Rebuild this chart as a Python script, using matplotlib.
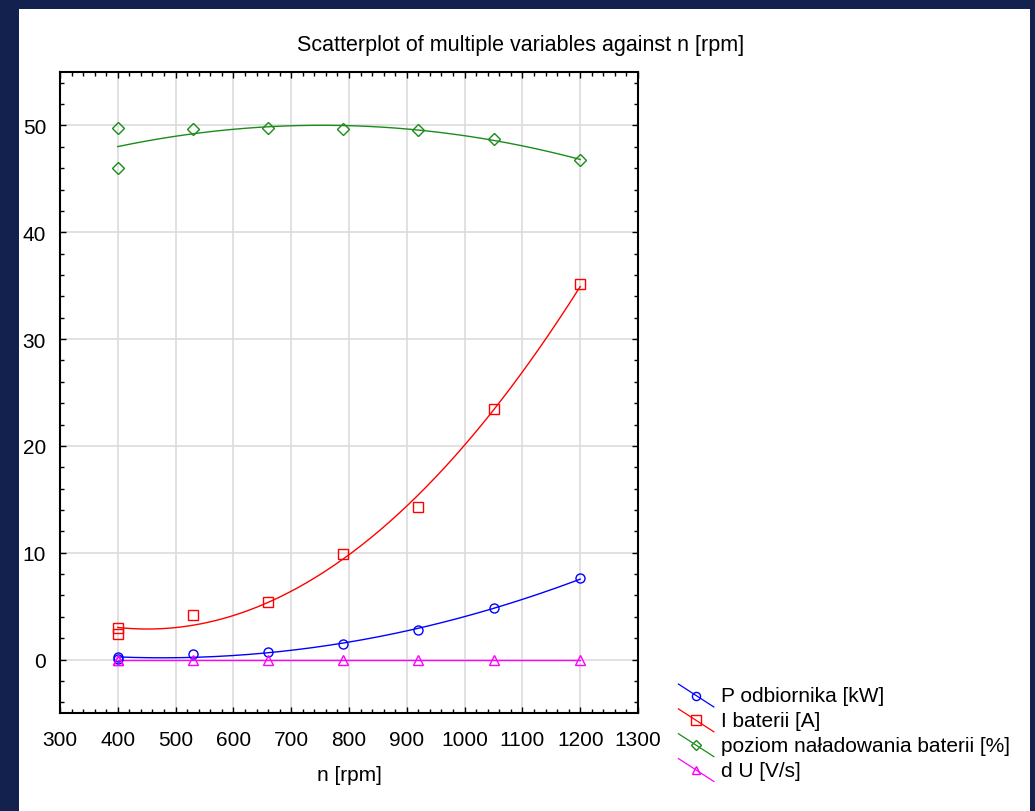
import numpy as np
import matplotlib
matplotlib.use("Agg")
import matplotlib.pyplot as plt
from matplotlib.lines import Line2D
from matplotlib.legend_handler import HandlerLine2D
from matplotlib.patches import Rectangle
from matplotlib.ticker import MultipleLocator

plt.rcParams['font.family'] = ['Liberation Sans', 'DejaVu Sans']

# data
n_rpm = [400, 400, 530, 660, 790, 920, 1050, 1200]
p_odb = [0.1, 0.2, 0.5, 0.7, 1.5, 2.75, 4.8, 7.6]
i_bat = [3.0, 2.35, 4.2, 5.35, 9.85, 14.3, 23.45, 35.2]
poziom = [49.8, 46.0, 49.7, 49.8, 49.7, 49.6, 48.7, 46.8]
d_u = [0.0, 0.0, 0.0, 0.0, 0.0, 0.0, 0.0, 0.0]

labels = ['P odbiornika [kW]', 'I baterii [A]',
          'poziom naładowania baterii [%]', 'd U [V/s]']
colors = ['#0000ff', '#ff0000', '#1a8c1a', '#ff00ff']
markers = ['o', 's', 'D', '^']
msizes = [6.5, 7.5, 6, 6.5]


class DiagHandler(HandlerLine2D):
    # legend sample drawn as a diagonal line with the marker in the middle
    def create_artists(self, legend, orig_handle, xdescent, ydescent,
                       width, height, fontsize, trans):
        x0, x1 = -xdescent, width - xdescent
        y0, y1 = height - ydescent + 2, -ydescent - 4
        ln = Line2D([x0, x1], [y0, y1], color=orig_handle.get_color(), lw=0.9)
        mk = Line2D([(x0 + x1) / 2], [(y0 + y1) / 2],
                    marker=orig_handle.get_marker(), ms=orig_handle.get_markersize() * 0.9,
                    mfc='none', mec=orig_handle.get_color(), mew=1, ls='none')
        ln.set_transform(trans)
        mk.set_transform(trans)
        return [ln, mk]


W, H = 1035, 812
fig = plt.figure(figsize=(W / 100, H / 100), dpi=100, facecolor='#12214d')
fig.patches.append(Rectangle((19 / W, 0), (1030 - 19) / W, 1 - 10 / H,
                             transform=fig.transFigure, facecolor='white',
                             edgecolor='none', zorder=-1))

ax = fig.add_axes([60 / W, 1 - 714 / H, (638 - 60) / W, (714 - 73) / H])

x = np.array(n_rpm, dtype=float)
xs = np.linspace(x.min(), x.max(), 200)
handles = []
for ys, lab, c, m, ms in zip([p_odb, i_bat, poziom, d_u], labels, colors, markers, msizes):
    ys = np.array(ys)
    coef = np.polyfit(x, ys, 2)
    ax.plot(xs, np.polyval(coef, xs), color=c, lw=1, zorder=3)
    ax.plot(x, ys, ls='none', marker=m, ms=ms, mfc='none', mec=c, mew=1, zorder=4)
    handles.append(Line2D([], [], color=c, marker=m, ms=ms))

ax.set_xlim(300, 1300)
ax.set_ylim(-5, 55)
ax.xaxis.set_major_locator(MultipleLocator(100))
ax.xaxis.set_minor_locator(MultipleLocator(20))
ax.yaxis.set_major_locator(MultipleLocator(10))
ax.yaxis.set_minor_locator(MultipleLocator(2))
ax.grid(True, which='major', color='#dcdcdc', lw=1.2, zorder=0)
ax.set_axisbelow(True)
ax.tick_params(which='both', direction='in', top=True, right=True, labelsize=15)
ax.tick_params(which='major', length=4, width=1, pad=12)
ax.tick_params(which='minor', length=3, width=1)
ax.tick_params(axis='y', which='major', pad=10)
for sp in ax.spines.values():
    sp.set_linewidth(1.5)

ax.set_xlabel('n [rpm]', fontsize=15, labelpad=12)
fig.text(521 / W, 1 - 46 / H, 'Scatterplot of multiple variables against n [rpm]',
         ha='center', va='center', fontsize=15.5)

fig.legend(handles, labels, loc='upper left', bbox_to_anchor=(668 / W, 1 - 677 / H),
           frameon=False, fontsize=15, handlelength=1.7, handletextpad=0.35,
           labelspacing=0.28, borderpad=0, handler_map={Line2D: DiagHandler()})

fig.savefig('out.png', dpi=100, facecolor=fig.get_facecolor())
